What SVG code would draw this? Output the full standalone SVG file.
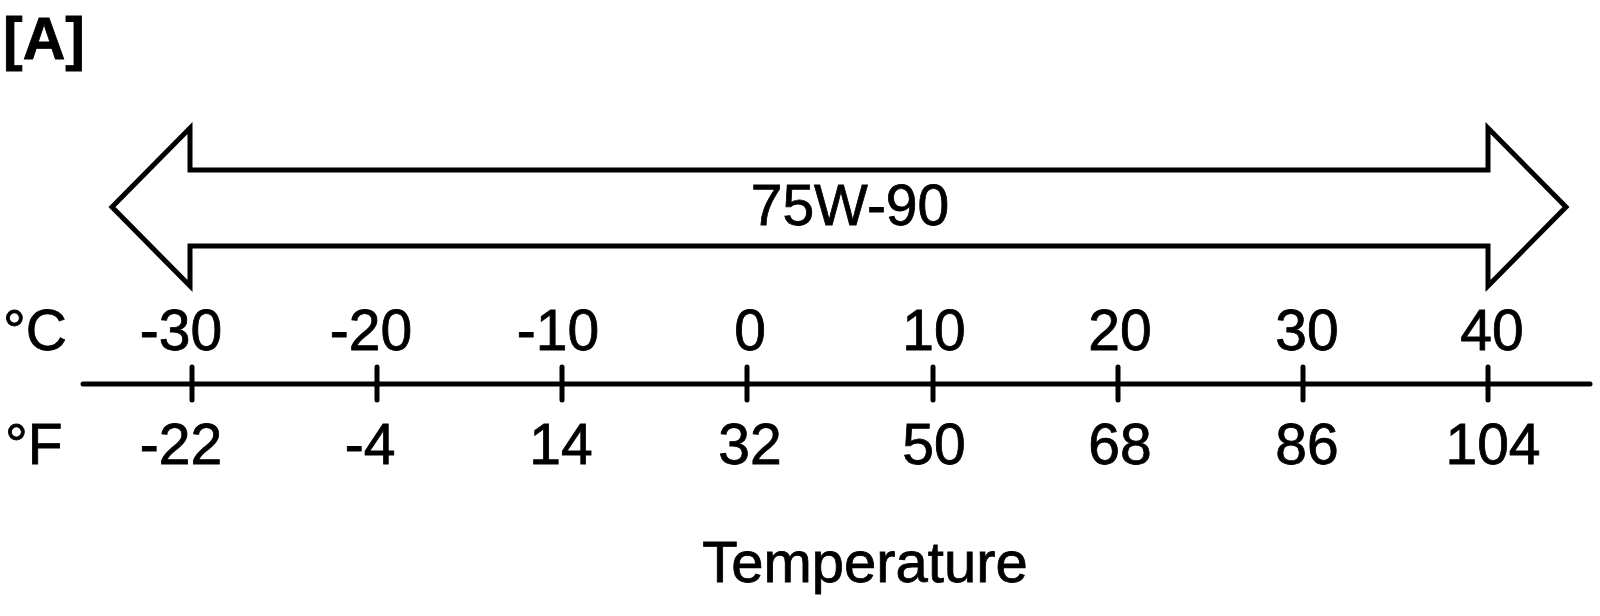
<svg xmlns="http://www.w3.org/2000/svg" width="1600" height="616" viewBox="0 0 1600 616">
<style>
text{font-family:"Liberation Sans",Arial,sans-serif;fill:#000;stroke:#000;stroke-width:0.8}
.lbl{font-size:57px;text-anchor:middle}
.ln{stroke:#000;stroke-width:5;fill:none}
</style>
<rect width="1600" height="616" fill="#fff"/>
<text x="3" y="59" style="font-size:59px;font-weight:bold">[A]</text>
<g id="arrow">
<path class="ln" stroke-linejoin="miter" d="M112,207 L190,128 L190,170 L1488,170 L1488,128 L1566,207 L1488,286 L1488,246 L190,246 L190,286 Z"/>
<text class="lbl" x="850" y="225">75W-90</text>
</g>
<g id="axis">
<line class="ln" x1="83" y1="384" x2="1590" y2="384" stroke-width="5.5" stroke-linecap="round"/>
<g class="ln" stroke-linecap="round">
<line x1="192" y1="367" x2="192" y2="400"/>
<line x1="377" y1="367" x2="377" y2="400"/>
<line x1="562" y1="367" x2="562" y2="400"/>
<line x1="747" y1="367" x2="747" y2="400"/>
<line x1="933" y1="367" x2="933" y2="400"/>
<line x1="1118" y1="367" x2="1118" y2="400"/>
<line x1="1303" y1="367" x2="1303" y2="400"/>
<line x1="1488" y1="367" x2="1488" y2="400"/>
</g>
</g>
<g id="celsius">
<text x="3" y="350" style="font-size:57px">°C</text>
<text class="lbl" x="181" y="350">-30</text>
<text class="lbl" x="371" y="350">-20</text>
<text class="lbl" x="558" y="350">-10</text>
<text class="lbl" x="750" y="350">0</text>
<text class="lbl" x="934" y="350">10</text>
<text class="lbl" x="1120" y="350">20</text>
<text class="lbl" x="1307" y="350">30</text>
<text class="lbl" x="1492" y="350">40</text>
</g>
<g id="fahrenheit">
<text x="5" y="464" style="font-size:57px">°F</text>
<text class="lbl" x="181" y="464">-22</text>
<text class="lbl" x="370" y="464">-4</text>
<text class="lbl" x="561" y="464">14</text>
<text class="lbl" x="750" y="464">32</text>
<text class="lbl" x="934" y="464">50</text>
<text class="lbl" x="1120" y="464">68</text>
<text class="lbl" x="1307" y="464">86</text>
<text class="lbl" x="1493" y="464">104</text>
</g>
<text class="lbl" x="865" y="582" style="font-size:58px">Temperature</text>
</svg>
